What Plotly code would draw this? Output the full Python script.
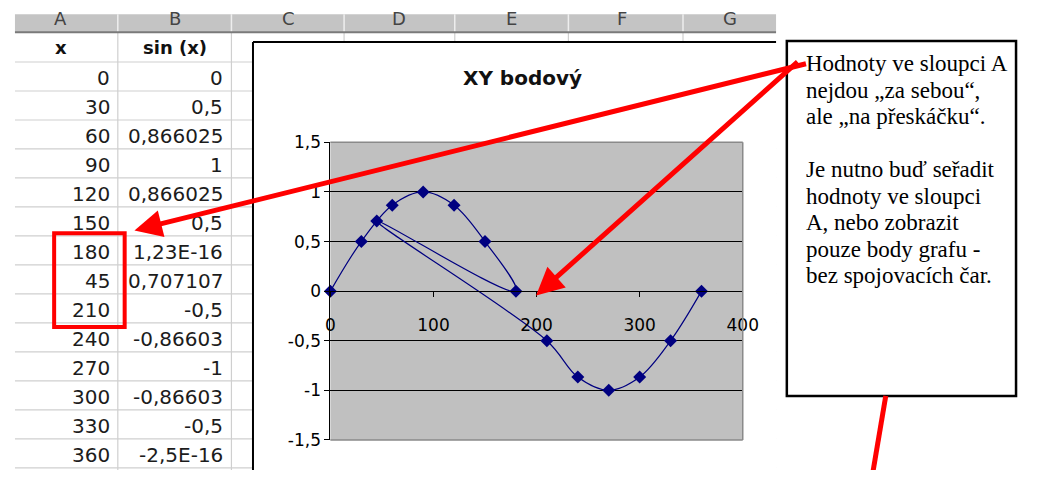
import plotly.graph_objects as go

# The page body keeps an 8px margin, so the figure sits 8px in from the
# top-left corner and is sized to stay inside the 1042x478 window.
OX, OY = 8, 8
FW, FH = 1042 - 2 * OX, 478 - 2 * OY
H_REF = 478

# ---------------- data ----------------
x_vals = [0, 30, 60, 90, 120, 150, 180, 45, 210, 240, 270, 300, 330, 360]
sin_vals = [0, 0.5, 0.866025, 1, 0.866025, 0.5, 1.23e-16, 0.707107,
            -0.5, -0.86603, -1, -0.86603, -0.5, -2.5e-16]
sin_labels = ["0", "0,5", "0,866025", "1", "0,866025", "0,5", "1,23E-16",
              "0,707107", "-0,5", "-0,86603", "-1", "-0,86603", "-0,5", "-2,5E-16"]
col_headers = ["x", "sin (x)"]
col_letters = ["A", "B", "C", "D", "E", "F", "G"]
chart_title = "XY bodový"
x_ticks = [0, 100, 200, 300, 400]
x_tick_labels = ["0", "100", "200", "300", "400"]
y_ticks = [-1.5, -1, -0.5, 0, 0.5, 1, 1.5]
y_tick_labels = ["-1,5", "-1", "-0,5", "0", "0,5", "1", "1,5"]
note_lines = ["Hodnoty ve sloupci A", "nejdou „za sebou“,", "ale „na přeskáčku“.", "",
              "Je nutno buď seřadit", "hodnoty ve sloupci", "A, nebo zobrazit",
              "pouze body grafu -", "bez spojovacích čar."]

# ---------------- geometry (window pixels -> paper) ----------------
def px(x):
    return (x - OX) / FW

def py(y):
    return 1 - (y - OY) / FH

PL, PR, PT, PB = 332, 753, 138, 449          # plot area
col_edges = [10, 115, 231, 346, 459, 575, 692, 787]
letter_cx = [57, 173, 289, 402, 517, 630, 740]
HEAD_TOP, HEAD_BOT = 8, 23
ROW0, ROW_H = 54, 30.3
SHEET_R = 787
BOTTOM = H_REF + 10
BOX = (798, 32, 1032, 403)

shapes = []
annotations = []

def line(x0, y0, x1, y1, color, width, layer="below"):
    shapes.append(dict(type="line", xref="paper", yref="paper",
                       x0=px(x0), y0=py(y0), x1=px(x1), y1=py(y1),
                       line=dict(color=color, width=width), layer=layer))

def rect(x0, y0, x1, y1, fill, lc=None, lw=0, layer="below"):
    shapes.append(dict(type="rect", xref="paper", yref="paper",
                       x0=px(x0), y0=py(y0), x1=px(x1), y1=py(y1),
                       fillcolor=fill, line=dict(color=lc or fill, width=lw), layer=layer))

def label(text, x, y, size, family="DejaVu Sans", color="#1c1c1c", xanchor="center"):
    annotations.append(dict(text=text, x=px(x), y=py(y), xref="paper", yref="paper",
                            showarrow=False, xanchor=xanchor, yanchor="middle",
                            font=dict(family=family, size=size, color=color)))

# spreadsheet header band
rect(col_edges[0], HEAD_TOP - 4, SHEET_R, HEAD_BOT, "#c4c4c4")
for ce in col_edges[1:-1]:
    line(ce, HEAD_TOP - 4, ce, HEAD_BOT, "#eeeeee", 1.5)
# cell grid
n_rows = len(x_vals) + 1
for k in range(n_rows + 1):
    yy = ROW0 + ROW_H * k
    line(col_edges[0], yy, SHEET_R, yy, "#cfcfcf", 1.2)
for ce in col_edges[1:-1]:
    line(ce, HEAD_BOT, ce, BOTTOM, "#cfcfcf", 1.2)
line(col_edges[0], HEAD_BOT, SHEET_R, HEAD_BOT, "#7a7a7a", 2)

# chart object
CH_L, CH_T = 253, 33
rect(CH_L, CH_T, SHEET_R, BOTTOM, "white")
line(CH_L, CH_T, SHEET_R, CH_T, "black", 2)
line(CH_L, CH_T, CH_L, BOTTOM, "black", 2)
rect(PL, PT, PR, PB, "#c0c0c0")

# note box
rect(*BOX, "white", "black", 2.5)

# plot-area border
line(PL, PT, PR, PT, "#8a8a8a", 1.5, "above")
line(PR, PT, PR, PB, "#8a8a8a", 1.5, "above")
line(PL, PB, PR, PB, "#8a8a8a", 1.5, "above")

# red highlight rectangle and red line leaving the box
shapes.append(dict(type="rect", xref="paper", yref="paper",
                   x0=px(50), y0=py(233), x1=px(122), y1=py(331),
                   line=dict(color="#ff0000", width=4), fillcolor="rgba(0,0,0,0)", layer="above"))
line(899, 403, 885, BOTTOM, "#ff0000", 5, "above")

# column letters (tops cut by the window edge)
for t, cx in zip(col_letters, letter_cx):
    label(t, cx, 8.5, 18, color="#444444")

# header cells
for t, cx in zip(col_headers, [57, 173]):
    label("<b>" + t + "</b>", cx, 39, 18, color="#111111")

# numeric cells
for i, (xv, lab) in enumerate(zip(x_vals, sin_labels)):
    yc = ROW0 + ROW_H * i + 16.5
    label(str(xv), 109, yc, 20, xanchor="right")
    label(lab, 224, yc, 20, xanchor="right")

# chart title
label("<b>" + chart_title + "</b>", 528, 71, 20, color="#111111")

# note text
for i, t in enumerate(note_lines):
    if t:
        label(t, 816, 56 + 27.7 * i, 23, family="Liberation Serif", color="black", xanchor="left")

# red arrows
TAIL = (805, 63)
for tip in [(132, 230), (542, 298)]:
    annotations.append(dict(text="", x=px(tip[0]), y=py(tip[1]), xref="paper", yref="paper",
                            ax=TAIL[0] - tip[0], ay=TAIL[1] - tip[1], axref="pixel", ayref="pixel",
                            showarrow=True, arrowhead=2, arrowsize=1.1, arrowwidth=5,
                            arrowcolor="#ff0000", standoff=0))

fig = go.Figure()
fig.add_trace(go.Scatter(
    x=x_vals, y=sin_vals, mode="lines+markers",
    line=dict(color="#000080", width=1.2, shape="spline", smoothing=1),
    marker=dict(symbol="diamond", size=10, color="#000080"),
    cliponaxis=False, hoverinfo="skip"))

yd0, yd1 = py(PB), py(PT)
y_lo, y_hi = -1.5, 1.5
x_axis_pos = yd0 + (0 - y_lo) / (y_hi - y_lo) * (yd1 - yd0)

fig.update_layout(
    width=FW, height=FH,
    margin=dict(l=0, r=0, t=0, b=0),
    paper_bgcolor="white", plot_bgcolor="rgba(0,0,0,0)",
    showlegend=False,
    shapes=shapes, annotations=annotations,
    xaxis=dict(domain=[px(PL), px(PR)], range=[0, 400], anchor="free", position=x_axis_pos,
               showgrid=False, zeroline=False, showline=True, linecolor="black", linewidth=1,
               ticks="outside", ticklen=5, tickcolor="black",
               tickvals=x_ticks, ticktext=x_tick_labels, ticklabelstandoff=13,
               tickfont=dict(family="DejaVu Sans", size=17, color="black"), fixedrange=True),
    yaxis=dict(domain=[yd0, yd1], range=[y_lo, y_hi], anchor="x",
               showgrid=True, gridcolor="black", gridwidth=1, zeroline=False,
               showline=True, linecolor="black", linewidth=1,
               ticks="outside", ticklen=5, tickcolor="black",
               tickvals=y_ticks, ticktext=y_tick_labels,
               tickfont=dict(family="DejaVu Sans", size=17, color="black"), fixedrange=True),
)

fig.write_html("out.html", config={"displayModeBar": False})
